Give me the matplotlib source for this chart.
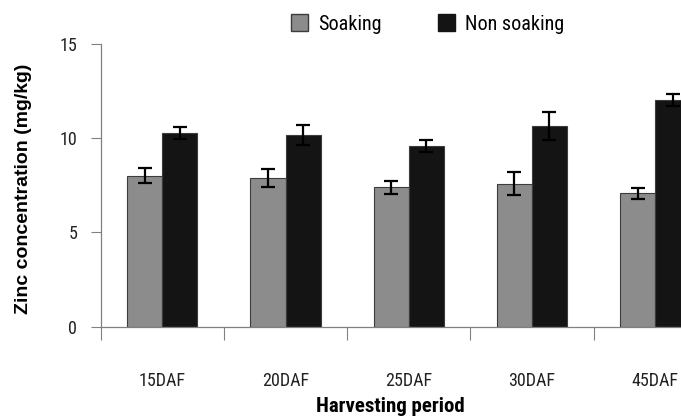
import matplotlib
matplotlib.use('Agg')
import matplotlib.pyplot as plt
from matplotlib import font_manager as fm
from matplotlib.patches import Patch
import numpy as np

# zinc content by harvesting period
periods = ['15DAF', '20DAF', '25DAF', '30DAF', '45DAF']
soaking = [8.0, 7.86, 7.38, 7.58, 7.06]
soaking_err = [0.40, 0.48, 0.34, 0.59, 0.28]
non_soaking = [10.25, 10.13, 9.56, 10.63, 12.01]
non_soaking_err = [0.30, 0.53, 0.33, 0.74, 0.32]


def first_font(names):
    for n in names:
        try:
            fm.findfont(fm.FontProperties(family=n), fallback_to_default=False)
            return n
        except ValueError:
            pass
    return None


narrow = first_font(['Liberation Sans Narrow', 'Roboto Condensed', 'Open Sans Condensed',
                     'DejaVu Sans Condensed', 'Noto Sans Condensed'])
if narrow:
    fam = [narrow, 'DejaVu Sans']
    fs = 13
else:
    fam = ['Liberation Sans', 'DejaVu Sans']
    fs = 11
plt.rcParams['font.family'] = fam

fig = plt.figure(figsize=(6.81, 4.20), dpi=100)
fig.set_facecolor('white')
# axes run past the right edge of the figure on purpose
ax = fig.add_axes([0.1479, 0.2226, 0.9046, 0.6738])

x = np.arange(len(periods))
w = 0.285
err_kw = dict(ecolor='black', elinewidth=1.6, capsize=5, capthick=1.6)
ax.bar(x - w / 2, soaking, w, yerr=soaking_err, color='#8c8c8c',
       edgecolor='#3c3c3c', linewidth=0.8, error_kw=err_kw, zorder=2)
ax.bar(x + w / 2, non_soaking, w, yerr=non_soaking_err, color='#141414',
       edgecolor='#3c3c3c', linewidth=0.8, error_kw=err_kw, zorder=2)

ax.set_xlim(-0.5, len(periods) - 0.5)
ax.set_ylim(0, 15)
ax.set_yticks([0, 5, 10, 15])
ax.tick_params(axis='y', length=7, width=0.8, color='#808080',
               labelsize=fs, pad=10, labelcolor='#222222')

# category labels in the middle, tick marks on the group boundaries
ax.set_xticks(x)
ax.set_xticklabels(periods)
ax.tick_params(axis='x', which='major', length=0, labelsize=fs, pad=33,
               labelcolor='#222222')
ax.set_xticks(np.arange(len(periods) + 1) - 0.5, minor=True)
ax.tick_params(axis='x', which='minor', length=9, width=0.8, color='#808080',
               direction='out')

for side in ['top', 'right']:
    ax.spines[side].set_visible(False)
for side in ['left', 'bottom']:
    ax.spines[side].set_color('#808080')
    ax.spines[side].set_linewidth(0.9)

fig.text(390 / 681, 1 - 406 / 420, 'Harvesting period', ha='center', va='center',
         fontsize=fs + 2, fontweight='bold')
fig.text(24 / 681, 1 - 189 / 420, 'Zinc concentration (mg/kg)', rotation=90,
         ha='center', va='center', fontsize=14, fontweight='bold',
         family=['Liberation Sans', 'DejaVu Sans'])

handles = [Patch(facecolor='#8c8c8c', edgecolor='#3c3c3c', label='Soaking'),
           Patch(facecolor='#141414', edgecolor='#141414', label='Non soaking')]
fig.legend(handles=handles, loc='center left', bbox_to_anchor=(273 / 681, 1 - 24 / 420),
           ncol=2, frameon=False, fontsize=fs + 1.5, handlelength=0.85, handleheight=0.85,
           handletextpad=0.5, columnspacing=2.8)

plt.savefig('out.png', dpi=100)
